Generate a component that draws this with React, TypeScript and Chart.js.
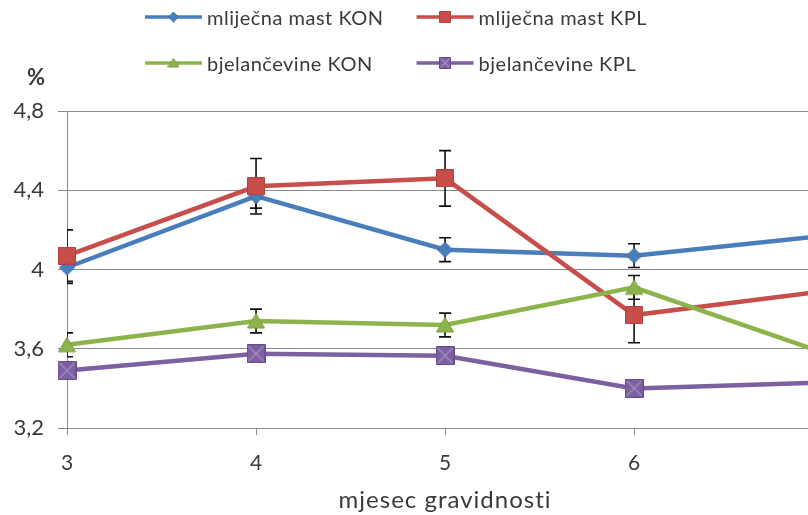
import React, { useEffect, useRef } from 'react';
import { Chart, registerables } from 'chart.js';

Chart.register(...registerables);

// ---- data ----
const MONTHS = [3, 4, 5, 6, 7];
const X_VIEW_MAX = 6.92; // the original picture is cropped just before month 7
const SERIES_LABELS = ['mliječna mast KON', 'mliječna mast KPL', 'bjelančevine KON', 'bjelančevine KPL'];
const FAT_KON = [4.01, 4.37, 4.1, 4.07, 4.17];
const FAT_KON_ERR = [0.08, 0.06, 0.06, 0.06, 0.06];
const FAT_KPL = [4.07, 4.42, 4.46, 3.77, 3.89];
const FAT_KPL_ERR = [0.13, 0.14, 0.14, 0.14, 0.1];
const PROT_KON = [3.62, 3.74, 3.72, 3.91, 3.58];
const PROT_KON_ERR = [0.06, 0.06, 0.06, 0.06, 0.05];
const PROT_KPL = [3.49, 3.575, 3.565, 3.4, 3.43];
const PROT_KPL_ERR = [0.02, 0.02, 0.02, 0.02, 0.02];
const Y_MIN = 3.2;
const Y_MAX = 4.8;
const Y_STEP = 0.4;
const Y_UNIT = '%';
const X_TITLE = 'mjesec gravidnosti';

const COLORS = ['#4A7EBB', '#C74E4B', '#8DB34C', '#7D60A0'];
const DARK = ['#3F6FA8', '#B0403D', '#7C9F40', '#654A8C'];
const MARKERS = ['diamond', 'square', 'triangle', 'xsquare'];
const FONT = 'Lato, "Open Sans", sans-serif';
const TEXT = '#3a3a3a';
const GRID = '#8a8a8a';

function makeMarker(kind: string, fill: string, stroke: string, size: number): HTMLCanvasElement {
  const c = document.createElement('canvas');
  c.width = size;
  c.height = size;
  const g = c.getContext('2d')!;
  const s = size;
  g.fillStyle = fill;
  g.strokeStyle = stroke;
  g.lineWidth = 1;
  g.beginPath();
  if (kind === 'diamond') {
    g.moveTo(s / 2, 0.5);
    g.lineTo(s - 0.5, s / 2);
    g.lineTo(s / 2, s - 0.5);
    g.lineTo(0.5, s / 2);
    g.closePath();
  } else if (kind === 'triangle') {
    g.moveTo(s / 2, 1.5);
    g.lineTo(s - 0.5, s - 2);
    g.lineTo(0.5, s - 2);
    g.closePath();
  } else {
    g.rect(0.5, 0.5, s - 1, s - 1);
  }
  g.fill();
  g.stroke();
  if (kind === 'xsquare') {
    g.strokeStyle = '#a48fc4';
    g.lineWidth = 1.3;
    g.beginPath();
    g.moveTo(2, 2);
    g.lineTo(s - 2, s - 2);
    g.moveTo(s - 2, 2);
    g.lineTo(2, s - 2);
    g.stroke();
  }
  return c;
}

const errorBarPlugin = {
  id: 'errorBars',
  beforeDatasetsDraw(chart: any) {
    const { ctx, chartArea } = chart;
    const xs = chart.scales.x;
    const ys = chart.scales.y;
    ctx.save();
    ctx.beginPath();
    ctx.rect(chartArea.left, chartArea.top - 20, chartArea.right - chartArea.left, chartArea.bottom - chartArea.top + 20);
    ctx.clip();
    ctx.strokeStyle = '#111';
    ctx.lineWidth = 1.6;
    chart.data.datasets.forEach((ds: any) => {
      const errs: number[] = ds.errors || [];
      ds.data.forEach((p: any, i: number) => {
        const e = errs[i];
        if (!e) return;
        const x = xs.getPixelForValue(p.x);
        const yTop = ys.getPixelForValue(p.y + e);
        const yBot = ys.getPixelForValue(p.y - e);
        ctx.beginPath();
        ctx.moveTo(x, yTop);
        ctx.lineTo(x, yBot);
        ctx.moveTo(x - 6, yTop);
        ctx.lineTo(x + 6, yTop);
        ctx.moveTo(x - 6, yBot);
        ctx.lineTo(x + 6, yBot);
        ctx.stroke();
      });
    });
    ctx.restore();
  },
};

const decorPlugin = {
  id: 'decor',
  afterDraw(chart: any) {
    const { ctx, chartArea } = chart;
    const xs = chart.scales.x;
    ctx.save();
    // unit label
    ctx.fillStyle = TEXT;
    ctx.font = `bold 22px ${FONT}`;
    ctx.textAlign = 'center';
    ctx.textBaseline = 'middle';
    ctx.fillText(Y_UNIT, chartArea.left - 31, chartArea.top - 33);
    // x axis title centred on the full category span
    ctx.font = `24px ${FONT}`;
    (ctx as any).letterSpacing = '1px';
    const mid = (MONTHS[0] + MONTHS[MONTHS.length - 1]) / 2;
    ctx.fillText(X_TITLE, xs.getPixelForValue(mid), 500);

    // legend in a 2x2 grid
    ctx.font = `20px ${FONT}`;
    (ctx as any).letterSpacing = '0.5px';
    const ds = chart.data.datasets;
    const w = ds.map((d: any) => ctx.measureText(d.label).width);
    const symW = 57;
    const gap = 5;
    const colGap = 33;
    const col0 = Math.max(w[0], w[2]) + symW + gap;
    const col1 = Math.max(w[1], w[3]) + symW + gap;
    const total = col0 + colGap + col1;
    const x0 = 396 - total / 2;
    const rowsY = [17, 63];
    ds.forEach((d: any, i: number) => {
      const col = i % 2;
      const row = Math.floor(i / 2);
      const x = col === 0 ? x0 : x0 + col0 + colGap;
      const y = rowsY[row];
      ctx.strokeStyle = COLORS[i];
      ctx.lineWidth = 3.5;
      ctx.beginPath();
      ctx.moveTo(x, y);
      ctx.lineTo(x + symW, y);
      ctx.stroke();
      const m = d.legendMarker as HTMLCanvasElement;
      ctx.drawImage(m, x + symW / 2 - m.width / 2, y - m.height / 2);
      ctx.fillStyle = TEXT;
      ctx.textAlign = 'left';
      ctx.textBaseline = 'middle';
      ctx.fillText(d.label, x + symW + gap, y + 2);
    });
    ctx.restore();
  },
};

export default function App() {
  const ref = useRef<HTMLCanvasElement | null>(null);

  useEffect(() => {
    document.body.style.margin = '0';
    if (!ref.current) return;
    const values = [FAT_KON, FAT_KPL, PROT_KON, PROT_KPL];
    const errors = [FAT_KON_ERR, FAT_KPL_ERR, PROT_KON_ERR, PROT_KPL_ERR];
    const sizes = [16, 18, 18, 19];
    const datasets = values.map((vals, i) => ({
      label: SERIES_LABELS[i],
      data: MONTHS.map((m, j) => ({ x: m, y: vals[j] })),
      errors: errors[i],
      borderColor: COLORS[i],
      backgroundColor: COLORS[i],
      borderWidth: 4.5,
      pointStyle: makeMarker(MARKERS[i], COLORS[i], DARK[i], sizes[i]),
      legendMarker: makeMarker(MARKERS[i], COLORS[i], DARK[i], i === 0 ? 11 : 12),
      pointRadius: 9,
      tension: 0,
      clip: false as any,
      order: 4 - i,
    }));

    const chart = new Chart(ref.current, {
      type: 'line',
      data: { datasets: datasets as any },
      plugins: [errorBarPlugin, decorPlugin],
      options: {
        animation: false,
        responsive: true,
        maintainAspectRatio: false,
        layout: { autoPadding: false, padding: { top: 111, right: 0, left: 0, bottom: 0 } },
        plugins: { legend: { display: false }, tooltip: { enabled: false } },
        scales: {
          x: {
            type: 'linear',
            bounds: 'data',
            min: MONTHS[0],
            max: X_VIEW_MAX,
            afterFit: (s: any) => {
              s.height = 87;
              s.paddingRight = 0;
              s.paddingLeft = 0;
            },
            ticks: {
              stepSize: 1,
              includeBounds: false,
              color: TEXT,
              font: { family: FONT, size: 21 },
              padding: 16,
              maxRotation: 0,
            },
            grid: { drawOnChartArea: false, drawTicks: true, tickLength: 7, color: GRID },
            border: { color: GRID, width: 1 },
          },
          y: {
            min: Y_MIN,
            max: Y_MAX,
            afterFit: (s: any) => {
              s.width = 67;
              s.paddingTop = 0;
              s.paddingBottom = 0;
            },
            ticks: {
              stepSize: Y_STEP,
              color: TEXT,
              font: { family: FONT, size: 22 },
              padding: 14,
              callback: (v: any) => String(Math.round(Number(v) * 10) / 10).replace('.', ','),
            },
            grid: { color: GRID, tickLength: 9, drawTicks: true },
            border: { color: GRID, width: 1 },
          },
        },
      },
    });
    return () => chart.destroy();
  }, []);

  return (
    <div style={{ width: 808, height: 515, position: 'relative', background: '#fff' }}>
      <canvas ref={ref} />
    </div>
  );
}
